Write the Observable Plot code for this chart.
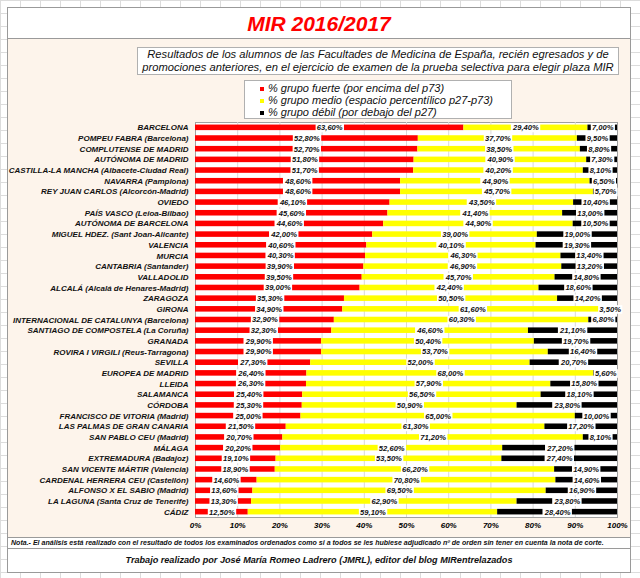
<!DOCTYPE html>
<html>
<head>
<meta charset="utf-8">
<script src="https://cdn.jsdelivr.net/npm/d3@7"></script>
<script src="https://cdn.jsdelivr.net/npm/@observablehq/plot@0.6"></script>
<style>
  html, body { margin: 0; padding: 0; }
  body {
    width: 640px; height: 578px; position: relative; overflow: hidden;
    font-family: "Liberation Sans", Arial, sans-serif;
    background-color: #fff;
    background-image:
      linear-gradient(to right, #dcdcdc 1px, transparent 1px),
      linear-gradient(to bottom, #dcdcdc 1px, transparent 1px);
    background-size: 20px 13px;
  }
  .box { position: absolute; box-sizing: border-box; }
  #titlebox { left: 7px; top: 7px; width: 624px; height: 32px; background: #fff; border: 1px solid #9a9a9a; border-bottom: none;
    color: #ff0000; font-weight: bold; font-style: italic; font-size: 21px; text-align: center; line-height: 31px; }
  #peach { left: 7px; top: 38px; width: 624px; height: 500px; background: #fdf4eb; border: 1px solid #9a9a9a; }
  #subtitle { left: 137px; top: 47px; width: 482px; height: 28px; background: #fff; border: 1px solid #b0b0b0;
    font-style: italic; font-size: 11.2px; text-align: center; line-height: 13px; padding-top: 0px; color: #111; z-index: 3; white-space: nowrap; }
  #legend { left: 244px; top: 80px; width: 268px; height: 39px; background: #fff; border: 1px solid #b0b0b0;
    font-style: italic; font-size: 11px; color: #111; z-index: 3; padding-left: 15px; padding-top: 1px; }
  #legend div { height: 12px; line-height: 12px; }
  #legend span.sw { display: inline-block; width: 4px; height: 4px; margin-right: 4px; vertical-align: 1px; }
  #notebox { left: 7px; top: 537px; width: 624px; height: 12px; background: #fff; border: 1px solid #9a9a9a;
    font-style: italic; font-weight: bold; font-size: 7.05px; line-height: 10px; padding-left: 3px; color: #111; white-space: nowrap; }
  #footer { left: 7px; top: 548px; width: 624px; height: 25px; background: #fff; border: 1px solid #9a9a9a;
    font-style: italic; font-weight: bold; font-size: 9.1px; text-align: center; line-height: 23px; color: #111; }
  #chart { position: absolute; left: 0; top: 110px; z-index: 2; }
  #chart svg { background: transparent !important; overflow: visible; }
  #chart g[aria-label^="x-axis"] text { font-weight: bold; font-style: italic; font-size: 8px; }
</style>
</head>
<body>
<div class="box" id="titlebox">MIR 2016/2017</div>
<div class="box" id="peach"></div>
<div class="box" id="subtitle">Resultados de los alumnos de las Facultades de Medicina de España, recién egresados y de<br>promociones anteriores, en el ejercicio de examen de la prueba selectiva para elegir plaza MIR</div>
<div class="box" id="legend"></div>
<div id="chart"></div>
<div class="box" id="notebox">Nota.- El análisis está realizado con el resultado de todos los examinados ordenados como si a todos se les hubiese adjudicado nº de orden sin tener en cuenta la nota de corte.</div>
<div class="box" id="footer">Trabajo realizado por José María Romeo Ladrero (JMRL), editor del blog MIRentrelazados</div>
<script>
const universities = [
  "BARCELONA",
  "POMPEU FABRA (Barcelona)",
  "COMPLUTENSE DE MADRID",
  "AUTÓNOMA DE MADRID",
  "CASTILLA-LA MANCHA (Albacete-Ciudad Real)",
  "NAVARRA (Pamplona)",
  "REY JUAN CARLOS (Alcorcón-Madrid)",
  "OVIEDO",
  "PAÍS VASCO (Leioa-Bilbao)",
  "AUTÓNOMA DE BARCELONA",
  "MIGUEL HDEZ. (Sant Joan-Alicante)",
  "VALENCIA",
  "MURCIA",
  "CANTABRIA (Santander)",
  "VALLADOLID",
  "ALCALÁ (Alcalá de Henares-Madrid)",
  "ZARAGOZA",
  "GIRONA",
  "INTERNACIONAL DE CATALUNYA (Barcelona)",
  "SANTIAGO DE COMPOSTELA (La Coruña)",
  "GRANADA",
  "ROVIRA I VIRGILI (Reus-Tarragona)",
  "SEVILLA",
  "EUROPEA DE MADRID",
  "LLEIDA",
  "SALAMANCA",
  "CÓRDOBA",
  "FRANCISCO DE VITORIA (Madrid)",
  "LAS PALMAS DE GRAN CANARIA",
  "SAN PABLO CEU (Madrid)",
  "MÁLAGA",
  "EXTREMADURA (Badajoz)",
  "SAN VICENTE MÁRTIR (Valencia)",
  "CARDENAL HERRERA CEU (Castellón)",
  "ALFONSO X EL SABIO (Madrid)",
  "LA LAGUNA (Santa Cruz de Tenerife)",
  "CÁDIZ"
];
const fuerte = [63.6,52.8,52.7,51.8,51.7,48.6,48.6,46.1,45.6,44.6,42.0,40.6,40.3,39.9,39.5,39.0,35.3,34.9,32.9,32.3,29.9,29.9,27.3,26.4,26.3,25.4,25.3,25.0,21.5,20.7,20.2,19.1,18.9,14.6,13.6,13.3,12.5];
const medio  = [29.4,37.7,38.5,40.9,40.2,44.9,45.7,43.5,41.4,44.9,39.0,40.1,46.3,46.9,45.7,42.4,50.5,61.6,60.3,46.6,50.4,53.7,52.0,68.0,57.9,56.5,50.9,65.0,61.3,71.2,52.6,53.5,66.2,70.8,69.5,62.9,59.1];
const debil  = [7.0,9.5,8.8,7.3,8.1,6.5,5.7,10.4,13.0,10.5,19.0,19.3,13.4,13.2,14.8,18.6,14.2,3.5,6.8,21.1,19.7,16.4,20.7,5.6,15.8,18.1,23.8,10.0,17.2,8.1,27.2,27.4,14.9,14.6,16.9,23.8,28.4];
const groups = ["% grupo fuerte (por encima del p73)", "% grupo medio (espacio percentílico p27-p73)", "% grupo débil (por debajo del p27)"];
const colors = ["#ff0000", "#ffff00", "#000000"];
const xTicks = [0,10,20,30,40,50,60,70,80,90,100];

// legend
const leg = document.getElementById("legend");
groups.forEach((g, i) => {
  const row = document.createElement("div");
  row.innerHTML = `<span class="sw" style="background:${colors[i]}"></span>${g}`;
  leg.appendChild(row);
});

const series = [fuerte, medio, debil];
const data = [];
universities.forEach((u, i) => {
  groups.forEach((g, j) => data.push({name: u, group: g, value: series[j][i]}));
});
const fmt = v => v.toFixed(2).replace(".", ",") + "%";

const stackOpts = {x: "value", y: "name", z: "group", order: groups};

const chart = Plot.plot({
  width: 640,
  height: 427,
  marginTop: 12,
  marginBottom: 20,
  marginLeft: 195,
  marginRight: 23,
  style: {background: "transparent", fontFamily: "'Liberation Sans', Arial, sans-serif", overflow: "visible"},
  x: {domain: [0, 100], ticks: xTicks, tickSize: 0, tickPadding: 5, tickFormat: d => d + "%", label: null},
  y: {domain: universities, axis: null, paddingInner: 0.48, paddingOuter: 0.24, round: false},
  color: {domain: groups, range: colors},
  marks: [
    Plot.frame({fill: "#ffffff", stroke: "#a0a0a0"}),
    Plot.ruleX(xTicks.slice(1, -1), {stroke: "#d9d9d9", strokeWidth: 1}),
    Plot.barX(data, Plot.stackX({...stackOpts, fill: "group"})),
    Plot.text(data, Plot.stackX({...stackOpts, text: d => fmt(d.value), fill: "#111",
      fontSize: 7.6, fontWeight: "bold", fontStyle: "italic"})),
    Plot.text(universities, {x: 0, y: d => d, text: d => d, textAnchor: "end", dx: -7,
      fontSize: 8, fontWeight: "bold", fontStyle: "italic", fill: "#111"})
  ]
});
document.getElementById("chart").appendChild(chart);

// white boxes behind segment labels
const ns = "http://www.w3.org/2000/svg";
const re = /^\d+,\d\d%$/;
Array.from(chart.querySelectorAll("text")).filter(t => re.test(t.textContent.trim())).forEach(t => {
  let b;
  try { b = t.getBBox(); } catch (e) { b = null; }
  const r = document.createElementNS(ns, "rect");
  if (b && b.width > 0) {
    r.setAttribute("x", b.x - 1.2);
    r.setAttribute("y", b.y + 0.4);
    r.setAttribute("width", b.width + 2.4);
    r.setAttribute("height", b.height - 0.4);
  }
  r.setAttribute("fill", "#ffffff");
  r.setAttribute("stroke", "none");
  const tr = t.getAttribute("transform");
  if (tr) r.setAttribute("transform", tr);
  t.parentNode.insertBefore(r, t);
});
</script>
</body>
</html>
